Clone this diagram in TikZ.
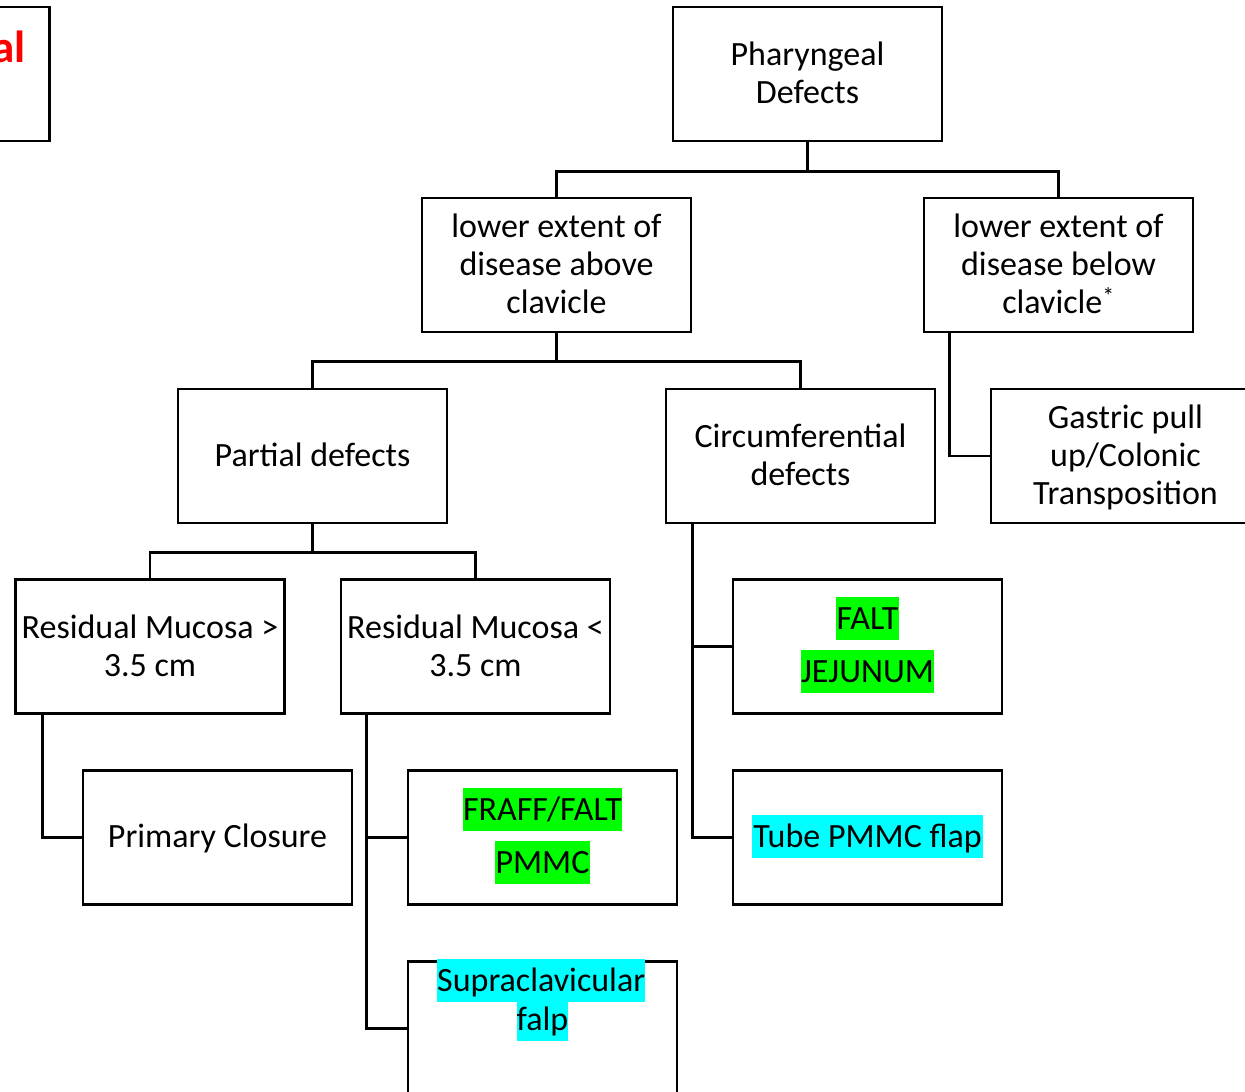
\documentclass[tikz,border=0pt]{standalone}
\usepackage{fontspec}
\setmainfont{Carlito}
\usetikzlibrary{calc}
\definecolor{hlgreen}{RGB}{0,255,0}
\definecolor{hlcyan}{RGB}{0,255,255}
\newcommand{\st}{\rule[-5pt]{0pt}{31pt}}
\begin{document}
\begin{tikzpicture}[x=1pt,y=-1pt,
  every node/.style={font=\fontsize{34}{38}\selectfont},
  box/.style={draw, line width=2.8pt, minimum width=269pt, minimum height=134pt, inner sep=0pt, align=center},
  link/.style={line width=2.8pt},
  hlg/.style={fill=hlgreen, inner xsep=0.5pt, inner ysep=0pt, text height=32pt, text depth=11pt, anchor=base},
  hlc/.style={fill=hlcyan, inner xsep=1.5pt, inner ysep=0pt, text height=32pt, text depth=11pt, anchor=base}]
\useasboundingbox (0,0) rectangle (1245,1092);
\clip (0,0) rectangle (1245,1092);
\fill[white] (0,0) rectangle (1245,1092);

% partially visible box at top left
\node[box] (red) at (-85,74) {};
\node[anchor=base east, inner sep=0pt, text=red, font=\fontsize{45}{50}\selectfont\bfseries] (redt) at (26,62) {al};

\node[box] (phar) at (807.5,74) {\st Pharyngeal\\ \st Defects};
\node[box] (lc) at (556.5,265) {\st lower extent of\\ \st disease above\\ \st clavicle};
\node[box] (rc) at (1058.5,265) {\st lower extent of\\ \st disease below\\ \st clavicle\textsuperscript{*}};
\node[box] (part) at (312.5,456) {\st Partial defects};
\node[box] (circ) at (800.5,456) {\st Circumferential\\ \st defects};
\node[box] (gas) at (1125.5,456) {\st Gastric pull\\ \st up/Colonic\\ \st Transposition};
\node[box] (rg) at (150,646.5) {\st Residual Mucosa >\\ \st 3.5 cm};
\node[box] (rl) at (475.5,646.5) {\st Residual Mucosa <\\ \st 3.5 cm};
\node[box] (fj) at (867.5,646.5) {};
\node[box] (pc) at (217.5,837.5) {\st Primary Closure};
\node[box] (fr) at (542.5,837.5) {};
\node[box] (tube) at (867.5,837.5) {};
\node[box] (sup) at (542.5,1028.5) {};

% highlighted texts
\node[hlg] (frA) at (542.5,820) {FRAFF/FALT};
\node[hlg] (frB) at (542.5,873) {PMMC};
\node[hlg] (fjA) at (867.5,629) {FALT};
\node[hlg] (fjB) at (867.5,682) {JEJUNUM};
\node[hlc] (tubeA) at (867.5,847) {Tube PMMC flap};
\node[hlc, anchor=base west, inner xsep=0pt] (supA) at (437,991) {Supraclavicular\ };
\node[hlc, inner xsep=0pt, text height=28pt] (supB) at (542.5,1030) {falp};

% connectors
\coordinate (j1) at ($(phar.south)+(0,29)$);
\draw[link] (phar.south) -- (j1) -| (lc.north);
\draw[link] (j1) -| (rc.north);
\coordinate (j2) at ($(lc.south)+(0,28)$);
\draw[link] (lc.south) -- (j2) -| (part.north);
\draw[link] (j2) -| (circ.north);
\coordinate (j3) at ($(part.south)+(0,28)$);
\draw[link] (part.south) -- (j3) -| (rg.north);
\draw[link] (j3) -| (rl.north);
\draw[link] ([xshift=27pt]rc.south west) |- (gas.west);
\draw[link] ([xshift=28pt]rg.south west) |- (pc.west);
\draw[link] ([xshift=27pt]rl.south west) |- (fr.west);
\draw[link] ([xshift=27pt]rl.south west) |- (sup.west);
\draw[link] ([xshift=28pt]circ.south west) |- (fj.west);
\draw[link] ([xshift=28pt]circ.south west) |- (tube.west);
\end{tikzpicture}
\end{document}
